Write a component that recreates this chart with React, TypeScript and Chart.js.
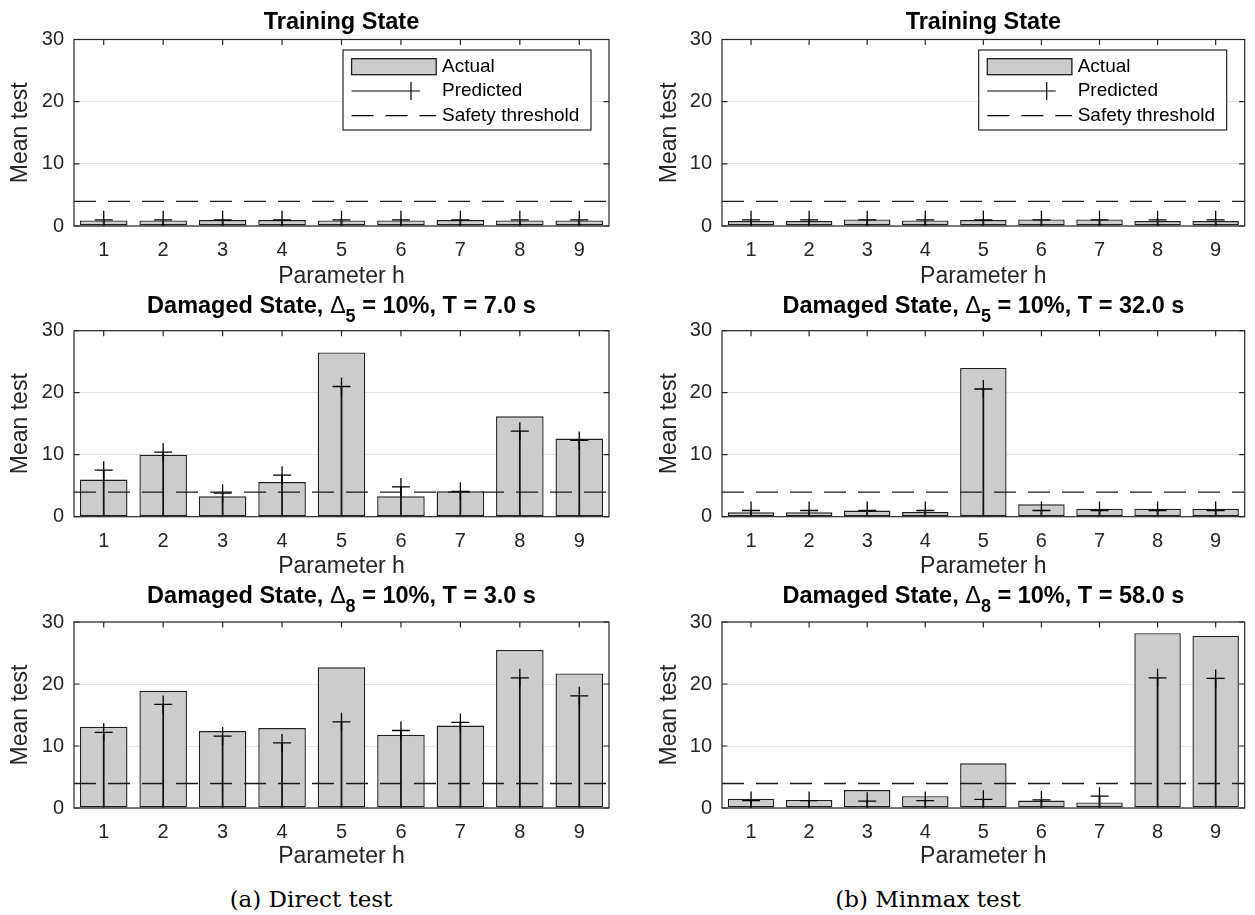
import React, { useEffect, useRef } from "react";
import { Chart, registerables } from "chart.js";

Chart.register(...registerables);

// ---------------- data ----------------
const categories = ["1", "2", "3", "4", "5", "6", "7", "8", "9"];
const yTickValues = [0, 10, 20, 30];
const safetyThreshold = 3.95;
const legendLabels = ["Actual", "Predicted", "Safety threshold"];
const xAxisLabel = "Parameter h";
const yAxisLabel = "Mean test";

const directTrainActual = [0.9, 0.9, 0.95, 0.95, 0.9, 0.9, 0.95, 0.9, 0.9];
const directTrainPred = [1.0, 1.0, 1.0, 1.0, 1.0, 1.0, 1.0, 1.0, 1.0];
const directD5Actual = [6.0, 10.0, 3.3, 5.6, 26.5, 3.3, 4.1, 16.2, 12.6];
const directD5Pred = [7.5, 10.4, 3.8, 6.7, 21.0, 4.8, 4.1, 13.8, 12.3];
const directD8Actual = [13.1, 18.9, 12.4, 12.9, 22.7, 11.8, 13.3, 25.5, 21.7];
const directD8Pred = [12.2, 16.7, 11.6, 10.5, 13.9, 12.5, 13.8, 21.0, 18.1];

const minmaxTrainActual = [0.8, 0.8, 1.05, 0.9, 0.95, 1.05, 1.05, 0.8, 0.8];
const minmaxTrainPred = [1.0, 1.0, 1.0, 1.0, 1.0, 1.0, 1.0, 1.0, 1.0];
const minmaxD5Actual = [0.7, 0.7, 1.0, 0.75, 24.0, 2.0, 1.3, 1.3, 1.3];
const minmaxD5Pred = [1.0, 1.0, 1.0, 1.0, 20.6, 1.0, 1.0, 1.0, 1.0];
const minmaxD8Actual = [1.5, 1.3, 2.9, 1.9, 7.2, 1.2, 0.9, 28.2, 27.8];
const minmaxD8Pred = [1.2, 1.2, 1.1, 1.2, 1.4, 1.3, 1.9, 21.0, 20.9];

const titleTraining = { pre: "Training State", sub: "", post: "" };
const titleDirectD5 = { pre: "Damaged State, ", sub: "5", post: " = 10%, T = 7.0 s" };
const titleDirectD8 = { pre: "Damaged State, ", sub: "8", post: " = 10%, T = 3.0 s" };
const titleMinmaxD5 = { pre: "Damaged State, ", sub: "5", post: " = 10%, T = 32.0 s" };
const titleMinmaxD8 = { pre: "Damaged State, ", sub: "8", post: " = 10%, T = 58.0 s" };

const captionA = "(a) Direct test";
const captionB = "(b) Minmax test";

// ---------------- style ----------------
const FONT = "'Liberation Sans', Arial, Helvetica, sans-serif";
const AXIS_COLOR = "#262626";
const LABEL_SIZE = 23;
const TITLE_SIZE = 23.5;

type TitleSpec = { pre: string; sub: string; post: string };
type PanelProps = {
  left: number; top: number; width: number; height: number;
  plot: { x0: number; y0: number; x1: number; y1: number };
  yTitleX: number; titleBaseline: number;
  title: TitleSpec; actual: number[]; pred: number[]; legend: boolean;
};

function Panel(p: PanelProps) {
  const ref = useRef<HTMLCanvasElement>(null);
  useEffect(() => {
    const canvas = ref.current;
    if (!canvas) return;
    const { left, top, width, height, plot } = p;

    const framePlugin = {
      id: "frame",
      afterDatasetsDraw(chart: any) {
        const { ctx, chartArea: a, scales } = chart;
        const xS = scales.x, yS = scales.y;
        ctx.save();
        // safety threshold
        const ty = yS.getPixelForValue(safetyThreshold);
        ctx.strokeStyle = "#1a1a1a";
        ctx.lineWidth = 1.3;
        ctx.setLineDash([22, 12]);
        ctx.beginPath();
        ctx.moveTo(a.left, ty);
        ctx.lineTo(a.right, ty);
        ctx.stroke();
        ctx.setLineDash([]);
        // box
        ctx.strokeStyle = AXIS_COLOR;
        ctx.lineWidth = 1.2;
        ctx.strokeRect(a.left, a.top, a.right - a.left, a.bottom - a.top);
        // inward ticks
        const tl = 5.5;
        ctx.beginPath();
        categories.forEach((_, i) => {
          const x = xS.getPixelForValue(i);
          ctx.moveTo(x, a.top); ctx.lineTo(x, a.top + tl);
          ctx.moveTo(x, a.bottom); ctx.lineTo(x, a.bottom - tl);
        });
        yTickValues.forEach((v) => {
          const y = yS.getPixelForValue(v);
          ctx.moveTo(a.left, y); ctx.lineTo(a.left + tl, y);
          ctx.moveTo(a.right, y); ctx.lineTo(a.right - tl, y);
        });
        ctx.stroke();
        ctx.restore();
      },
      afterDraw(chart: any) {
        const { ctx, chartArea: a } = chart;
        ctx.save();
        // title with optional subscript
        const t = p.title;
        const segs: { text: string; font: string; dy: number }[] = [
          { text: t.pre, font: `bold ${TITLE_SIZE}px ${FONT}`, dy: 0 },
        ];
        if (t.sub) {
          segs.push({ text: "Δ", font: `${TITLE_SIZE}px ${FONT}`, dy: 0 });
          segs.push({ text: t.sub, font: `bold 18px ${FONT}`, dy: 9 });
          segs.push({ text: t.post, font: `bold ${TITLE_SIZE}px ${FONT}`, dy: 0 });
        }
        let total = 0;
        segs.forEach((s) => { ctx.font = s.font; total += ctx.measureText(s.text).width; });
        let x = (a.left + a.right) / 2 - total / 2;
        const base = p.titleBaseline - top;
        ctx.fillStyle = "#000";
        ctx.textBaseline = "alphabetic";
        ctx.textAlign = "left";
        segs.forEach((s) => {
          ctx.font = s.font;
          ctx.fillText(s.text, x, base + s.dy);
          x += ctx.measureText(s.text).width;
        });

        if (p.legend) {
          const bw = 248, bh = 80;
          const bx = a.right - 18 - bw;
          const by = a.top + 10.5;
          ctx.fillStyle = "#fff";
          ctx.fillRect(bx, by, bw, bh);
          ctx.strokeStyle = AXIS_COLOR;
          ctx.lineWidth = 1.2;
          ctx.strokeRect(bx, by, bw, bh);
          const rows = [by + 16.7, by + 41, by + 65.7];
          const sx0 = bx + 8.6, sx1 = bx + 93.2;
          // Actual
          ctx.fillStyle = "#cccccc";
          ctx.fillRect(sx0, rows[0] - 8, sx1 - sx0, 16);
          ctx.strokeStyle = "#1f1f1f";
          ctx.lineWidth = 1.3;
          ctx.strokeRect(sx0, rows[0] - 8, sx1 - sx0, 16);
          // Predicted
          ctx.strokeStyle = "#000";
          ctx.lineWidth = 1.2;
          const mx = bx + 68;
          ctx.beginPath();
          ctx.moveTo(sx0, rows[1]); ctx.lineTo(mx, rows[1]);
          ctx.moveTo(mx - 9, rows[1]); ctx.lineTo(mx + 9, rows[1]);
          ctx.moveTo(mx, rows[1] - 9); ctx.lineTo(mx, rows[1] + 9);
          ctx.stroke();
          // Threshold
          ctx.setLineDash([22, 12]);
          ctx.beginPath();
          ctx.moveTo(sx0, rows[2]); ctx.lineTo(sx1, rows[2]);
          ctx.stroke();
          ctx.setLineDash([]);
          // labels
          ctx.fillStyle = "#000";
          ctx.font = `19px ${FONT}`;
          ctx.textBaseline = "middle";
          legendLabels.forEach((lab, i) => ctx.fillText(lab, bx + 99, rows[i]));
        }
        ctx.restore();
      },
    };

    const lh = LABEL_SIZE * 1.2;
    const chart = new Chart(canvas, {
      type: "bar",
      data: {
        labels: categories,
        datasets: [
          {
            type: "bar",
            label: legendLabels[0],
            data: p.actual,
            backgroundColor: "#cccccc",
            borderColor: "#1f1f1f",
            borderWidth: 1.4,
            borderSkipped: false,
            barPercentage: 0.8,
            categoryPercentage: 1,
            grouped: false,
            order: 3,
          },
          {
            type: "bar",
            label: legendLabels[1] + " stem",
            data: p.pred,
            backgroundColor: "#111",
            borderWidth: 0,
            barThickness: 1.1,
            grouped: false,
            order: 2,
          },
          {
            type: "line",
            label: legendLabels[1],
            data: p.pred,
            showLine: false,
            pointStyle: "cross",
            pointRadius: 9,
            pointHoverRadius: 9,
            pointBorderWidth: 1.3,
            pointBorderColor: "#000",
            pointBackgroundColor: "#000",
            order: 1,
          },
        ],
      } as any,
      options: {
        animation: false,
        responsive: false,
        maintainAspectRatio: false,
        events: [],
        layout: {
          padding: { top: plot.y0 - top, right: left + width - plot.x1, left: 0, bottom: 0 },
        },
        plugins: {
          legend: { display: false },
          tooltip: { enabled: false },
          title: { display: false },
        },
        scales: {
          x: {
            offset: true,
            grid: { display: false, drawTicks: false },
            border: { display: false },
            ticks: {
              font: { family: FONT, size: 20 },
              color: AXIS_COLOR,
              padding: 12.5,
              maxRotation: 0,
              autoSkip: false,
            },
            title: {
              display: true,
              text: xAxisLabel,
              font: { family: FONT, size: LABEL_SIZE },
              color: AXIS_COLOR,
              padding: { top: 0, bottom: 0 },
            },
            afterFit: (s: any) => { s.height = top + height - plot.y1; },
          },
          y: {
            min: 0,
            max: 30,
            ticks: {
              stepSize: 10,
              font: { family: FONT, size: 20 },
              color: AXIS_COLOR,
              padding: 10,
            },
            grid: { color: "#e3e3e3", drawTicks: false, lineWidth: 1 },
            border: { display: false },
            title: {
              display: true,
              text: yAxisLabel,
              font: { family: FONT, size: LABEL_SIZE },
              color: AXIS_COLOR,
              padding: { top: p.yTitleX - left - lh / 2, bottom: 0 },
            },
            afterFit: (s: any) => { s.width = plot.x0 - left; },
          },
        },
      } as any,
      plugins: [framePlugin],
    });
    return () => chart.destroy();
  }, []);
  return (
    <canvas
      ref={ref}
      width={p.width}
      height={p.height}
      style={{ position: "absolute", left: p.left, top: p.top, width: p.width, height: p.height }}
    />
  );
}

const rowBoxes = [
  { top: 0, height: 290, y0: 39.5, y1: 226, base: 29.3 },
  { top: 290, height: 290, y0: 330.7, y1: 516.7, base: 312.7 },
  { top: 580, height: 290, y0: 622, y1: 808, base: 602.7 },
];
const colBoxes = [
  { left: 0, width: 620, x0: 74, x1: 609, yTitleX: 20.7 },
  { left: 620, width: 635, x0: 722, x1: 1253, yTitleX: 669.5 },
];

const panelData = [
  [
    { title: titleTraining, actual: directTrainActual, pred: directTrainPred, legend: true },
    { title: titleTraining, actual: minmaxTrainActual, pred: minmaxTrainPred, legend: true },
  ],
  [
    { title: titleDirectD5, actual: directD5Actual, pred: directD5Pred, legend: false },
    { title: titleMinmaxD5, actual: minmaxD5Actual, pred: minmaxD5Pred, legend: false },
  ],
  [
    { title: titleDirectD8, actual: directD8Actual, pred: directD8Pred, legend: false },
    { title: titleMinmaxD8, actual: minmaxD8Actual, pred: minmaxD8Pred, legend: false },
  ],
];

export default function App() {
  const panels: React.ReactNode[] = [];
  rowBoxes.forEach((r, ri) => {
    colBoxes.forEach((c, ci) => {
      const d = panelData[ri][ci];
      panels.push(
        <Panel
          key={`${ri}-${ci}`}
          left={c.left}
          top={r.top}
          width={c.width}
          height={r.height}
          plot={{ x0: c.x0, y0: r.y0, x1: c.x1, y1: r.y1 }}
          yTitleX={c.yTitleX}
          titleBaseline={r.base}
          title={d.title}
          actual={d.actual}
          pred={d.pred}
          legend={d.legend}
        />
      );
    });
  });
  const capStyle: React.CSSProperties = {
    position: "absolute",
    top: 884,
    width: 300,
    textAlign: "center",
    fontFamily: "'DejaVu Serif', 'Liberation Serif', serif",
    fontSize: 23,
    lineHeight: "30px",
    color: "#000",
    whiteSpace: "nowrap",
  };
  return (
    <div style={{ position: "absolute", left: 0, top: 0, width: 1255, height: 915, background: "#fff", overflow: "hidden" }}>
      {panels}
      <div style={{ ...capStyle, left: 311 - 150 }}>{captionA}</div>
      <div style={{ ...capStyle, left: 928 - 150 }}>{captionB}</div>
    </div>
  );
}
